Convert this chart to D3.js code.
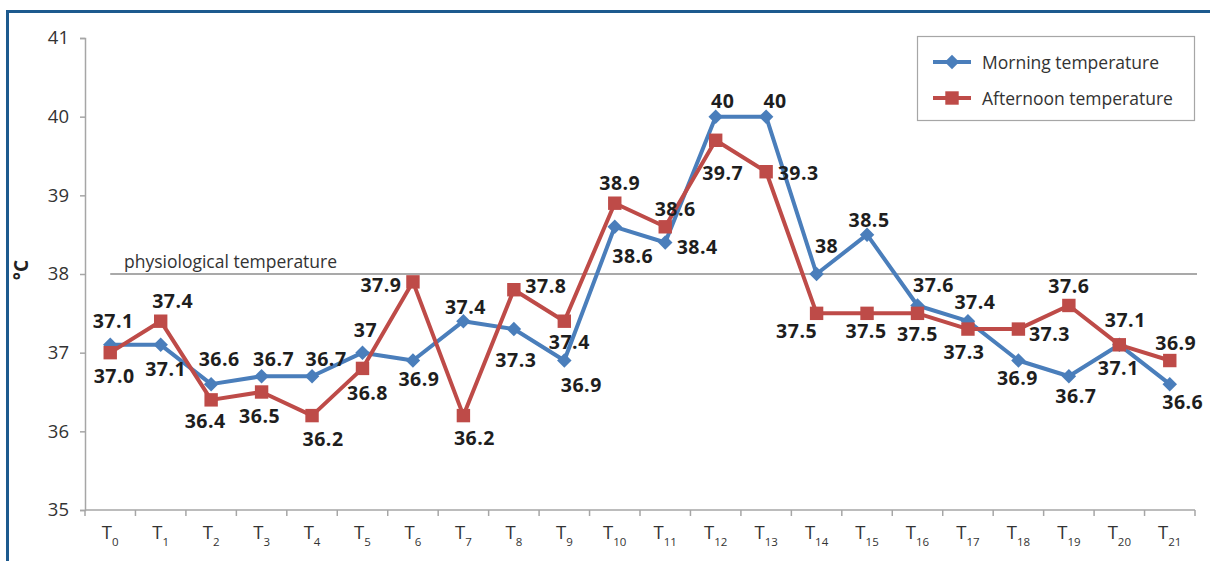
<!DOCTYPE html>
<html>
<head>
<meta charset="utf-8">
<script src="https://cdn.jsdelivr.net/npm/d3@7"></script>
<style>
  html, body { margin: 0; padding: 0; background: #fff; }
  svg { display: block; font-family: "Open Sans", sans-serif; }
</style>
</head>
<body>
<div id="chart"></div>
<script>
"use strict";

// chart values
const periods = ["0", "1", "2", "3", "4", "5", "6", "7", "8", "9", "10",
    "11", "12", "13", "14", "15", "16", "17", "18", "19", "20", "21"];
const morning = [37.1, 37.1, 36.6, 36.7, 36.7, 37, 36.9, 37.4, 37.3, 36.9, 38.6,
    38.4, 40, 40, 38, 38.5, 37.6, 37.4, 36.9, 36.7, 37.1, 36.6];
const afternoon = [37.0, 37.4, 36.4, 36.5, 36.2, 36.8, 37.9, 36.2, 37.8, 37.4, 38.9,
    38.6, 39.7, 39.3, 37.5, 37.5, 37.5, 37.3, 37.3, 37.6, 37.1, 36.9];
const morningLabels = ["37.1", "37.1", "36.6", "36.7", "36.7", "37", "36.9", "37.4", "37.3", "36.9", "38.6",
    "38.4", "40", "40", "38", "38.5", "37.6", "37.4", "36.9", "36.7", "37.1", "36.6"];
const afternoonLabels = ["37.0", "37.4", "36.4", "36.5", "36.2", "36.8", "37.9", "36.2", "37.8", "37.4", "38.9",
    "38.6", "39.7", "39.3", "37.5", "37.5", "37.5", "37.3", "37.3", "37.6", "37.1", "36.9"];
const yTicks = [35, 36, 37, 38, 39, 40, 41];
const physiological = 38;

// where each value label sits relative to its point: [dx of centre, dy of baseline]
const morningLabelOffsets = [[3, -17], [5, 31], [8, -18], [12, -10], [14, -10], [3, -16], [6, 25],
    [2, -7], [2, 38], [17, 31], [18, 36], [32, 11], [7, -9], [9, -9], [10, -21], [2, -8],
    [16, -13], [7, -12], [-1, 24], [7, 27], [-1, 30], [13, 25]];
const afternoonLabelOffsets = [[4, 30], [12, -13], [-6, 28], [-2, 31], [11, 30], [5, 32], [-32, 10],
    [11, 29], [32, 3], [5, 28], [5, -13], [10, -11], [7, 40], [32, 8], [-20, 25], [-1, 25],
    [0, 28], [-4, 30], [31, 12], [0, -12], [6, -18], [6, -11]];

const width = 1210, height = 561;
const blue = "#4a7ebb", red = "#be4b48";

const svg = d3.select("#chart").append("svg")
    .attr("width", width)
    .attr("height", height);

// outer frame (runs off the right and bottom edge)
svg.append("rect")
    .attr("x", 7.5).attr("y", 11.5)
    .attr("width", width + 20).attr("height", height + 20)
    .attr("fill", "none")
    .attr("stroke", "#1d5a8e")
    .attr("stroke-width", 3);

const x = d3.scaleBand().domain(periods).range([85, 1195]);
const y = d3.scaleLinear().domain([35, 41]).range([510, 38]);
const cx = p => x(p) + x.bandwidth() / 2;

// y axis
const yAxis = svg.append("g")
    .attr("transform", "translate(85,0)")
    .call(d3.axisLeft(y).tickValues(yTicks).tickSize(5).tickPadding(11).tickFormat(d3.format("d")));
yAxis.select(".domain").attr("stroke", "#a6a6a6").attr("stroke-width", 1.5);
yAxis.selectAll(".tick line").attr("stroke", "#a6a6a6").attr("stroke-width", 1.5);
yAxis.selectAll(".tick text")
    .attr("fill", "#333")
    .style("font-size", "18.5px")
    .style("font-family", "'Open Sans', sans-serif");

// x axis: ticks between categories
const xAxis = svg.append("g")
    .attr("transform", "translate(0,510)");
xAxis.append("line")
    .attr("x1", 85).attr("x2", 1195)
    .attr("stroke", "#a6a6a6").attr("stroke-width", 1.5);
xAxis.selectAll("line.tk")
    .data(periods.concat(["end"]))
    .join("line")
    .attr("class", "tk")
    .attr("x1", (d, i) => 85 + i * x.step())
    .attr("x2", (d, i) => 85 + i * x.step())
    .attr("y1", 0).attr("y2", 6)
    .attr("stroke", "#a6a6a6").attr("stroke-width", 1.5);
const xLabels = xAxis.selectAll("text")
    .data(periods)
    .join("text")
    .attr("x", d => cx(d))
    .attr("y", 29)
    .attr("text-anchor", "middle")
    .attr("fill", "#333")
    .style("font-size", "18.5px");
xLabels.append("tspan").text("T");
xLabels.append("tspan")
    .attr("dy", 7)
    .style("font-size", "11.5px")
    .text(d => d);

// y axis title
svg.append("text")
    .attr("transform", "translate(28,270) rotate(-90)")
    .attr("text-anchor", "middle")
    .attr("fill", "#222")
    .style("font-size", "19px")
    .style("font-weight", 700)
    .text("°C");

// physiological reference line
svg.append("line")
    .attr("x1", cx(periods[0])).attr("x2", 1197)
    .attr("y1", y(physiological)).attr("y2", y(physiological))
    .attr("stroke", "#8c8c8c").attr("stroke-width", 1.5);
svg.append("text")
    .attr("x", 124).attr("y", y(physiological) - 6)
    .attr("fill", "#333")
    .style("font-size", "17.5px")
    .text("physiological temperature");

const line = d3.line()
    .x((d, i) => cx(periods[i]))
    .y(d => y(d));

const series = [
    { values: morning, labels: morningLabels, offsets: morningLabelOffsets, color: blue, shape: "diamond" },
    { values: afternoon, labels: afternoonLabels, offsets: afternoonLabelOffsets, color: red, shape: "square" }
];

// lines first, markers on top
for (const s of series) {
    svg.append("path")
        .datum(s.values)
        .attr("d", line)
        .attr("fill", "none")
        .attr("stroke", s.color)
        .attr("stroke-width", 4)
        .attr("stroke-linejoin", "round");
}

const diamond = d3.symbol().type(d3.symbolSquare).size(105);
const square = d3.symbol().type(d3.symbolSquare).size(180);

for (const s of series) {
    svg.append("g")
        .selectAll("path")
        .data(s.values)
        .join("path")
        .attr("d", s.shape === "diamond" ? diamond : square)
        .attr("transform", (d, i) => `translate(${cx(periods[i])},${y(d)})` + (s.shape === "diamond" ? " rotate(45)" : ""))
        .attr("fill", s.color);
}

// value labels
for (const s of series) {
    svg.append("g")
        .selectAll("text")
        .data(s.values)
        .join("text")
        .attr("x", (d, i) => cx(periods[i]) + s.offsets[i][0])
        .attr("y", (d, i) => y(d) + s.offsets[i][1])
        .attr("text-anchor", "middle")
        .attr("fill", "#1e1e1e")
        .style("font-size", "19.5px")
        .style("font-weight", 700)
        .style("letter-spacing", "0.5px")
        .text((d, i) => s.labels[i]);
}

// legend
const legend = svg.append("g");
legend.append("rect")
    .attr("x", 917.5).attr("y", 36.5)
    .attr("width", 277).attr("height", 84)
    .attr("fill", "#fff")
    .attr("stroke", "#a6a6a6").attr("stroke-width", 1.2);
const entries = legend.selectAll("g")
    .data(series)
    .join("g")
    .attr("transform", (d, i) => `translate(0,${62 + i * 36})`);
entries.append("line")
    .attr("x1", 933).attr("x2", 971)
    .attr("stroke", d => d.color).attr("stroke-width", 4);
entries.append("path")
    .attr("d", d => d.shape === "diamond" ? diamond() : square())
    .attr("transform", d => "translate(952,0)" + (d.shape === "diamond" ? " rotate(45)" : ""))
    .attr("fill", d => d.color);
entries.append("text")
    .attr("x", 982)
    .attr("y", 6.5)
    .attr("fill", "#333")
    .style("font-size", "17.5px")
    .text((d, i) => i === 0 ? "Morning temperature" : "Afternoon temperature");
</script>
</body>
</html>
